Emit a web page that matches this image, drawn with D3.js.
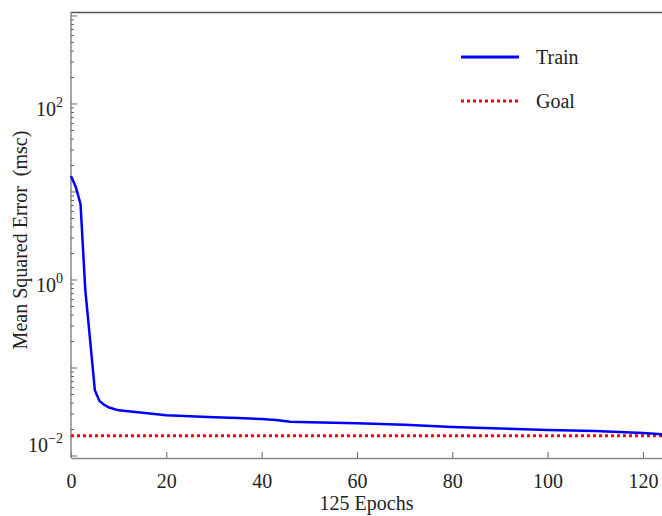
<!DOCTYPE html>
<html>
<head>
<meta charset="utf-8">
<script src="https://cdn.jsdelivr.net/npm/d3@7"></script>
<style>
  body { margin: 0; background: #fff; }
  text { font-family: "Liberation Serif", "Times New Roman", serif; fill: #222; }
</style>
</head>
<body>
<div id="chart"></div>
<script>
// training record
var epochs = [0, 1, 2, 3, 4, 5, 6, 7, 8, 10, 12, 15, 20, 25, 30, 35, 40, 43, 46, 50, 60, 70, 80, 90, 100, 110, 120, 124];
var trainMse = [15.2, 11.4, 7.3, 0.77, 0.21, 0.056, 0.042, 0.038, 0.0355, 0.033, 0.0322, 0.031, 0.029, 0.0283, 0.0275, 0.027, 0.0263, 0.0256, 0.0245, 0.0241, 0.0235, 0.0226, 0.0214, 0.0205, 0.0197, 0.0192, 0.0182, 0.0177];
var goal = 0.017;
var xTicks = [0, 20, 40, 60, 80, 100, 120];
var yLabelExp = [-2, 0, 2];
var legendNames = ["Train", "Goal"];

var width = 662, height = 516;
var margin = {top: 12, right: 0, bottom: 58, left: 71};

var svg = d3.select("#chart")
    .append("svg")
    .attr("width", width)
    .attr("height", height);

var x = d3.scaleLinear()
    .domain([0, 124])
    .range([margin.left, width - margin.right]);

var y = d3.scaleLog()
    .domain([Math.pow(10, -2.023), Math.pow(10, 3.045)])
    .range([height - margin.bottom, margin.top]);

var x0 = margin.left, x1 = width - margin.right;
var yb = height - margin.bottom, yt = margin.top;

// top frame line
svg.append("line")
    .attr("x1", x0).attr("x2", x1)
    .attr("y1", yt + 0.5).attr("y2", yt + 0.5)
    .attr("stroke", "#555").attr("stroke-width", 1.5);

// x axis, ticks pointing inside
var xAxis = d3.axisBottom(x)
    .tickValues(xTicks)
    .tickSizeInner(-6)
    .tickSizeOuter(0)
    .tickPadding(16);
var gx = svg.append("g")
    .attr("transform", "translate(0," + yb + ")")
    .call(xAxis);
gx.select(".domain").attr("stroke", "#888").attr("stroke-width", 1.5);
gx.selectAll(".tick line").attr("stroke", "#666");
gx.selectAll("text")
    .style("font-family", "Liberation Serif, serif")
    .style("font-size", "20px")
    .attr("fill", "#333");

// y axis: major and minor log ticks
var minor = [], major = [];
for (var k = -3; k <= 3; k++) {
    for (var m = 1; m <= 9; m++) {
        var v = m * Math.pow(10, k);
        if (v < y.domain()[0] || v > y.domain()[1]) continue;
        if (m === 1) major.push(v); else minor.push(v);
    }
}
svg.append("line")
    .attr("x1", x0).attr("x2", x0)
    .attr("y1", yt).attr("y2", yb)
    .attr("stroke", "#888").attr("stroke-width", 1.5);
svg.selectAll("minorTick")
    .data(minor)
    .enter()
    .append("line")
    .attr("x1", x0).attr("x2", x0 + 3)
    .attr("y1", function (d) { return y(d); })
    .attr("y2", function (d) { return y(d); })
    .attr("stroke", "#666");
svg.selectAll("majorTick")
    .data(major)
    .enter()
    .append("line")
    .attr("x1", x0).attr("x2", x0 + 6)
    .attr("y1", function (d) { return y(d); })
    .attr("y2", function (d) { return y(d); })
    .attr("stroke", "#666");

var yl = svg.selectAll("yLabels")
    .data(yLabelExp)
    .enter()
    .append("text")
    .attr("x", 63)
    .attr("y", function (d) { return Math.min(y(Math.pow(10, d)) + 12, 452); })
    .attr("text-anchor", "end")
    .style("font-size", "20px")
    .attr("fill", "#333");
yl.append("tspan").text("10");
yl.append("tspan")
    .attr("dy", -9)
    .style("font-size", "14px")
    .text(function (d) { return d < 0 ? "\u2212" + (-d) : d; });

// axis titles
svg.append("text")
    .attr("x", (x0 + x1) / 2)
    .attr("y", 510)
    .attr("text-anchor", "middle")
    .style("font-size", "20px")
    .attr("fill", "#333")
    .text("125 Epochs");

svg.append("text")
    .attr("transform", "translate(27,240) rotate(-90)")
    .attr("text-anchor", "middle")
    .style("font-size", "20px")
    .style("white-space", "pre")
    .attr("fill", "#333")
    .text("Mean Squared Error  (msc)");

// goal line
svg.append("line")
    .attr("x1", x(0)).attr("x2", x(124))
    .attr("y1", y(goal)).attr("y2", y(goal))
    .attr("stroke", "#ff0000")
    .attr("stroke-width", 3)
    .attr("stroke-dasharray", "3,3");

// train curve
var line = d3.line()
    .x(function (d, i) { return x(epochs[i]); })
    .y(function (d) { return y(d); });
svg.append("path")
    .attr("d", line(trainMse))
    .attr("fill", "none")
    .attr("stroke", "#0000ff")
    .attr("stroke-width", 2.5)
    .attr("stroke-linejoin", "round");

// legend
var lg = svg.append("g");
lg.append("line")
    .attr("x1", 461).attr("x2", 519)
    .attr("y1", 57).attr("y2", 57)
    .attr("stroke", "#0000ff").attr("stroke-width", 3);
lg.append("line")
    .attr("x1", 461).attr("x2", 518)
    .attr("y1", 101).attr("y2", 101)
    .attr("stroke", "#ff0000").attr("stroke-width", 3)
    .attr("stroke-dasharray", "3,3");
lg.selectAll("legendText")
    .data(legendNames)
    .enter()
    .append("text")
    .attr("x", 536)
    .attr("y", function (d, i) { return 64 + i * 44; })
    .style("font-size", "20px")
    .attr("fill", "#222")
    .text(function (d) { return d; });
</script>
</body>
</html>
